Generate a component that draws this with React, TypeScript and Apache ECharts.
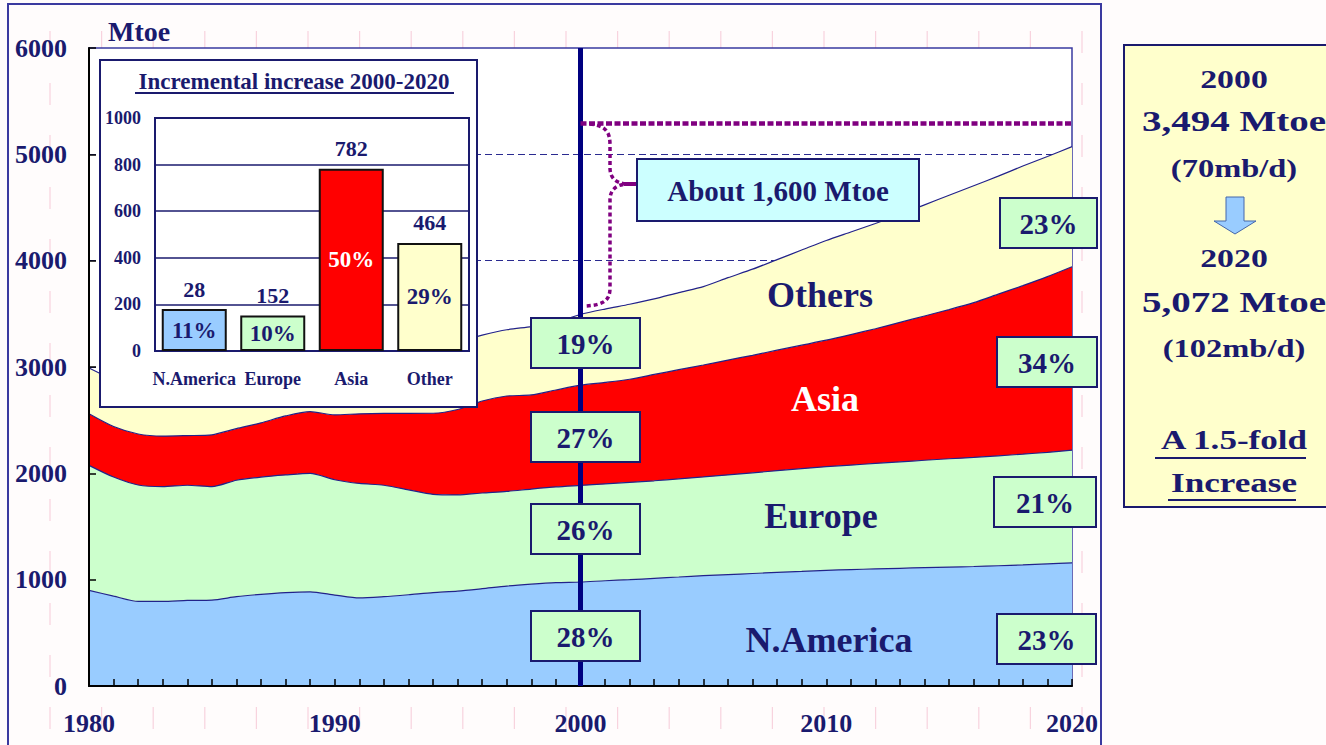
import React, { useEffect, useRef } from "react";
import * as echarts from "echarts";

// ---------- DATA ----------
const years = [
  "1980", "1981", "1982", "1983", "1984", "1985", "1986", "1987", "1988", "1989",
  "1990", "1991", "1992", "1993", "1994", "1995", "1996", "1997", "1998", "1999",
  "2000", "2001", "2002", "2003", "2004", "2005", "2006", "2007", "2008", "2009",
  "2010", "2011", "2012", "2013", "2014", "2015", "2016", "2017", "2018", "2019", "2020",
];
const nAmerica = [
  900, 845, 795, 795, 805, 808, 840, 862, 878, 885,
  855, 828, 840, 858, 878, 892, 915, 940, 958, 972,
  978, 990, 1000, 1012, 1025, 1038, 1048, 1058, 1068, 1078,
  1088, 1095, 1101, 1107, 1113, 1118, 1124, 1131, 1139, 1148, 1158,
];
const europe = [
  1175, 1120, 1095, 1080, 1083, 1067, 1095, 1103, 1107, 1115,
  1085, 1077, 1048, 987, 925, 905, 900, 890, 894, 900,
  908, 910, 915, 918, 923, 928, 937, 947, 957, 967,
  975, 983, 992, 1001, 1010, 1019, 1026, 1034, 1041, 1050, 1060,
];
const asia = [
  485, 475, 480, 475, 467, 487, 485, 510, 555, 580,
  610, 655, 676, 719, 762, 803, 865, 897, 885, 912,
  943, 955, 970, 1000, 1027, 1053, 1080, 1105, 1133, 1160,
  1189, 1227, 1267, 1312, 1357, 1403, 1455, 1520, 1585, 1652, 1725,
];
const others = [
  430, 440, 430, 430, 455, 468, 480, 475, 480, 480,
  530, 530, 546, 566, 615, 640, 620, 623, 643, 636,
  665, 690, 705, 710, 725, 737, 775, 810, 852, 895,
  938, 965, 990, 1015, 1045, 1075, 1100, 1110, 1125, 1130, 1129,
];
const seriesNames = ["N.America", "Europe", "Asia", "Others"];
const areaColors = ["#99ccff", "#ccffcc", "#ff0000", "#ffffcc"];
const shares2000 = ["19%", "27%", "26%", "28%"];
const shares2020 = ["23%", "34%", "21%", "23%"];

const insetCategories = ["N.America", "Europe", "Asia", "Other"];
const insetValues = [180, 152, 782, 464];
const insetTopLabels = ["28", "152", "782", "464"];
const insetShareLabels = ["11%", "10%", "50%", "29%"];
const insetColors = ["#99ccff", "#ccffcc", "#ff0000", "#ffffcc"];

const summaryLines = [
  "2000", "3,494 Mtoe", "(70mb/d)", "2020", "5,072 Mtoe", "(102mb/d)", "A 1.5-fold", "Increase",
];
const dividerYear = "2000";
const lastYear = "2020";
const bracketLevel = 5290;

// ---------- STYLE ----------
const NAVY = "#1a1a6e";
const SERIF = '"Liberation Serif", "Times New Roman", serif';

function txt(text: string, x: number, y: number, size: number, opts: any = {}) {
  return {
    type: "text",
    x,
    y,
    scaleX: opts.scaleX ?? 1,
    z: opts.z ?? 20,
    style: {
      text,
      fontSize: size,
      fontWeight: "bold",
      fontFamily: SERIF,
      fill: opts.fill ?? NAVY,
      align: opts.align ?? "center",
      verticalAlign: "middle",
    },
  };
}

function pctBox(x: number, y: number, w: number, h: number, text: string) {
  return [
    {
      type: "rect",
      z: 20,
      shape: { x, y, width: w, height: h },
      style: { fill: "#ccffcc", stroke: NAVY, lineWidth: 2 },
    },
    txt(text, x + w / 2, y + h / 2 + 1, 29, { z: 21 }),
  ];
}

export default function App() {
  const ref = useRef<HTMLDivElement>(null);

  useEffect(() => {
    if (!ref.current) return;
    const braceD =
      "M 590 124 C 606 126 610 132 610 145 L 610 168 C 610 178 616 183 626 184 C 616 185 610 190 610 200 L 610 288 C 610 300 604 305 586 306";
    try {
      echarts.graphic.registerShape("brace", echarts.graphic.extendPath(braceD, {}) as any);
    } catch (e) {
      /* ignore */
    }
    const chart = echarts.init(ref.current, null, { renderer: "svg" });

    const stacked = [nAmerica, europe, asia, others].map((vals, k) => ({
      name: seriesNames[k],
      type: "line",
      stack: "total",
      xAxisIndex: 0,
      yAxisIndex: 0,
      z: 2,
      smooth: 0.25,
      symbol: "none",
      showSymbol: false,
      lineStyle: { color: "#22228a", width: 1.2 },
      areaStyle: { color: areaColors[k], opacity: 1 },
      data: vals,
    }));

    const pinkLines: any[] = [];
    for (let k = 0; k < 21; k++) {
      const x = 50 + 51.6 * k;
      pinkLines.push({
        type: "line",
        z: -1,
        shape: { x1: x, y1: 31, x2: x, y2: 745 },
        style: { stroke: "#f8d3de", lineWidth: 1.2, lineDash: [22, 30] },
      });
    }

    const leftBoxes = [318, 412, 504, 611];
    const rightBoxes = [
      [1000, 198, 97],
      [997, 337, 100],
      [994, 477, 102],
      [997, 614, 99],
    ];

    const summaryY = [79, 121, 168, 258, 302, 348, 440, 483];
    const summarySize = [26, 30, 25, 26, 30, 25, 27, 27];

    const graphic: any[] = [
      ...pinkLines,
      {
        type: "rect",
        z: 50,
        shape: { x: 8, y: 4, width: 1093, height: 780 },
        style: { fill: "none", stroke: "#3a3aa0", lineWidth: 2 },
      },
      txt("Mtoe", 108, 31, 28, { align: "left" }),
      {
        type: "rect",
        z: 5,
        shape: { x: 100, y: 60, width: 377, height: 347 },
        style: { fill: "#ffffff", stroke: NAVY, lineWidth: 2 },
      },
      txt("Incremental increase 2000-2020", 294, 81, 23, { z: 9 }),
      {
        type: "line",
        z: 9,
        shape: { x1: 135, y1: 93, x2: 454, y2: 93 },
        style: { stroke: NAVY, lineWidth: 2 },
      },
      {
        type: "brace",
        z: 15,
        x: 0,
        y: 0,
        shape: {},
        style: { fill: "none", stroke: "#800080", lineWidth: 3.5, lineDash: [4, 3] },
      },
      {
        type: "line",
        z: 15,
        shape: { x1: 624, y1: 184, x2: 638, y2: 184 },
        style: { stroke: "#800080", lineWidth: 4 },
      },
      {
        type: "rect",
        z: 20,
        shape: { x: 637, y: 159, width: 282, height: 62 },
        style: { fill: "#ccffff", stroke: NAVY, lineWidth: 2 },
      },
      txt("About 1,600 Mtoe", 778, 191, 29, { z: 21 }),
      txt(seriesNames[3], 820, 295, 36),
      txt(seriesNames[2], 825, 399, 36, { fill: "#ffffff" }),
      txt(seriesNames[1], 821, 516, 36),
      txt(seriesNames[0], 829, 640, 36),
      {
        type: "rect",
        z: 20,
        shape: { x: 1124, y: 45, width: 230, height: 462 },
        style: { fill: "#ffffcc", stroke: NAVY, lineWidth: 2 },
      },
      {
        type: "polygon",
        z: 21,
        shape: {
          points: [
            [1226, 197], [1244, 197], [1244, 221], [1256, 221],
            [1235, 234], [1214, 221], [1226, 221],
          ],
        },
        style: { fill: "#99ccff", stroke: "#4466aa", lineWidth: 1 },
      },
      ...summaryLines.map((s, i) =>
        txt(s, 1234, summaryY[i], summarySize[i], { scaleX: 1.3, z: 21 })
      ),
      {
        type: "line",
        z: 21,
        shape: { x1: 1155, y1: 458, x2: 1306, y2: 458 },
        style: { stroke: NAVY, lineWidth: 2 },
      },
      {
        type: "line",
        z: 21,
        shape: { x1: 1168, y1: 500, x2: 1296, y2: 500 },
        style: { stroke: NAVY, lineWidth: 2 },
      },
    ];
    leftBoxes.forEach((y, i) => graphic.push(...pctBox(531, y, 109, 50, shares2000[i])));
    rightBoxes.forEach((b, i) => graphic.push(...pctBox(b[0], b[1], b[2], 50, shares2020[i])));

    const axisFont = { fontFamily: SERIF, fontWeight: "bold", color: NAVY };

    const option: any = {
      animation: false,
      backgroundColor: "transparent",
      grid: [
        {
          left: 89, right: 254, top: 48, bottom: 59,
          show: true, backgroundColor: "#ffffff", borderColor: "#3a3aa0", borderWidth: 1.5,
          z: 0, outerBoundsMode: "none",
        },
        {
          left: 155, right: 857, top: 118, bottom: 394,
          show: true, backgroundColor: "#ffffff", borderColor: NAVY, borderWidth: 2,
          z: 6, outerBoundsMode: "none",
        },
      ],
      xAxis: [
        {
          type: "category", gridIndex: 0, data: years, boundaryGap: false, z: 3,
          axisLine: { show: true, lineStyle: { color: "#000", width: 2 } },
          axisTick: { show: true, inside: true, length: 7, interval: 0, lineStyle: { color: "#000", width: 1.5 } },
          splitLine: { show: false },
          axisLabel: { ...axisFont, fontSize: 26, margin: 24, interval: 9 },
        },
        {
          type: "category", gridIndex: 1, data: insetCategories, z: 7,
          axisLine: { show: true, lineStyle: { color: NAVY, width: 2 } },
          axisTick: { show: false },
          axisLabel: { ...axisFont, fontSize: 18, margin: 19, interval: 0 },
        },
      ],
      yAxis: [
        {
          type: "value", gridIndex: 0, min: 0, max: 6000, interval: 1000, z: 3,
          axisLine: { show: true, lineStyle: { color: "#000", width: 2 } },
          axisTick: { show: true, inside: true, length: 7, lineStyle: { color: "#000", width: 1.5 } },
          splitLine: { show: false },
          axisLabel: { ...axisFont, fontSize: 26, margin: 22, formatter: (v: number) => String(v) },
        },
        {
          type: "value", gridIndex: 0, min: 0, max: 6000, interval: 1000, z: 0,
          axisLine: { show: false }, axisTick: { show: false }, axisLabel: { show: false },
          splitLine: {
            show: true, showMaxLine: false, showMinLine: false,
            lineStyle: { color: "#2a2a90", width: 1.2, type: [7, 4] },
          },
        },
        {
          type: "value", gridIndex: 1, min: 0, max: 1000, interval: 200, z: 7,
          axisLine: { show: false }, axisTick: { show: false },
          splitLine: { show: true, lineStyle: { color: NAVY, width: 1.5 } },
          axisLabel: { ...axisFont, fontSize: 18, margin: 14, formatter: (v: number) => String(v) },
        },
      ],
      series: [
        ...stacked,
        {
          type: "line",
          xAxisIndex: 0,
          yAxisIndex: 0,
          z: 4,
          data: [],
          silent: true,
          markLine: {
            silent: true,
            symbol: "none",
            label: { show: false },
            data: [
              { xAxis: dividerYear, lineStyle: { color: "#000080", width: 5, type: "solid" } },
              [
                { coord: [dividerYear, bracketLevel], lineStyle: { color: "#800080", width: 4.5, type: [6, 2.5] } },
                { coord: [lastYear, bracketLevel] },
              ],
            ],
          },
        },
        {
          type: "bar",
          xAxisIndex: 1,
          yAxisIndex: 2,
          z: 8,
          barWidth: 65,
          barGap: "-100%",
          data: insetValues.map((v, i) => ({ value: v, itemStyle: { color: insetColors[i] } })),
          itemStyle: { borderColor: "#111", borderWidth: 2 },
          label: {
            show: true,
            position: "top",
            distance: 9,
            ...axisFont,
            fontSize: 22,
            formatter: (p: any) => insetTopLabels[p.dataIndex],
          },
        },
        {
          type: "bar",
          xAxisIndex: 1,
          yAxisIndex: 2,
          z: 9,
          barWidth: 65,
          barGap: "-100%",
          data: insetValues.map((v, i) => ({
            value: v,
            label: { color: insetColors[i] === "#ff0000" ? "#ffffff" : NAVY },
          })),
          itemStyle: { color: "transparent", borderWidth: 0 },
          label: {
            show: true,
            position: "inside",
            fontFamily: SERIF,
            fontWeight: "bold",
            fontSize: 23,
            formatter: (p: any) => insetShareLabels[p.dataIndex],
          },
        },
      ],
      graphic: { elements: graphic },
    };

    chart.setOption(option);
    return () => chart.dispose();
  }, []);

  return (
    <div
      ref={ref}
      style={{
        position: "fixed",
        left: 0,
        top: 0,
        width: 1326,
        height: 745,
        background: "#fffcfc",
      }}
    />
  );
}
